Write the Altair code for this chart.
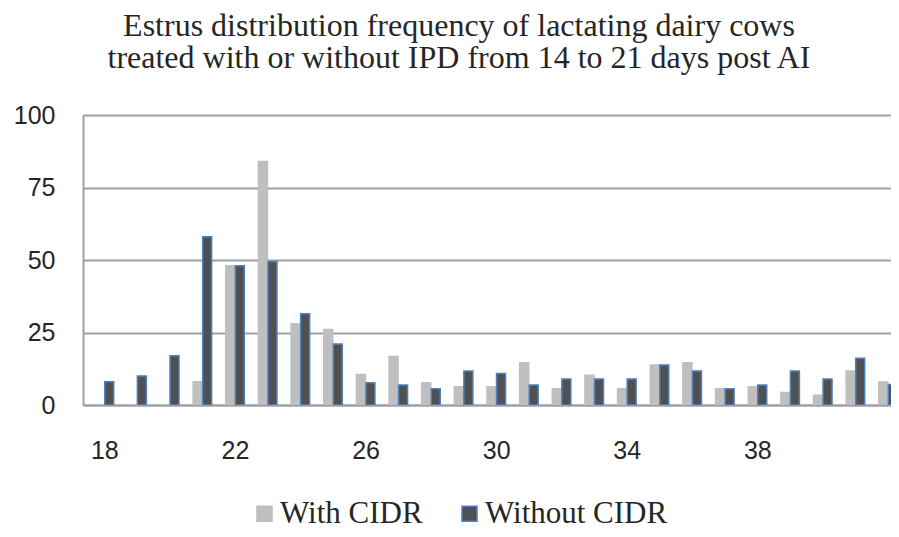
import altair as alt
import pandas as pd

# ---- data ----
days = list(range(18, 43))
with_cidr = [0, 0, 0, 8, 48, 84, 28, 26, 10.5, 16.7, 7.7, 6.3, 6.3, 14.6, 5.6,
             10.3, 5.6, 13.8, 14.6, 5.6, 6.3, 4.3, 3.4, 11.7, 7.9]
without_cidr = [8, 10, 17, 58, 48, 49.5, 31.5, 21, 7.7, 6.9, 5.6, 11.7, 10.9, 6.9, 9,
                9, 9, 13.8, 11.7, 5.6, 6.9, 11.7, 9, 16.1, 7.1]
series_names = ["With CIDR", "Without CIDR"]
x_labels = [18, 22, 26, 30, 34, 38]
y_ticks = [0, 25, 50, 75, 100]
title_lines = ["Estrus distribution frequency of lactating dairy cows",
               "treated with or without IPD from 14 to 21 days post AI"]

df = pd.DataFrame({
    "day": days * 2,
    "series": [series_names[0]] * len(days) + [series_names[1]] * len(days),
    "value": with_cidr + without_cidr,
})

GRID = "#A0A0A0"
legend_def = alt.Legend(
    title=None, orient="none", direction="horizontal", legendX=166, legendY=383,
    symbolType="square", symbolSize=225, symbolStrokeWidth=1.5,
    labelFont="Liberation Serif", labelFontSize=31, labelColor="#262626",
    labelOffset=0, columnPadding=31, padding=0, labelLimit=400,
)

chart = alt.Chart(df).transform_calculate(
    xpos="datum.day + (datum.series == 'With CIDR' ? -0.142 : 0.15)"
).mark_bar(size=9, strokeWidth=1.5, clip=True).encode(
    x=alt.X("xpos:Q",
            scale=alt.Scale(domain=[17.5, 41.94], nice=False, zero=False),
            axis=alt.Axis(values=x_labels, title=None, grid=False, ticks=False, tickSize=0,
                          labelFont="Liberation Sans", labelFontSize=25, labelColor="#262626",
                          labelPadding=33, labelFlush=False,
                          domainColor=GRID, domainWidth=2)),
    y=alt.Y("value:Q",
            scale=alt.Scale(domain=[0, 100], nice=False),
            axis=alt.Axis(values=y_ticks, title=None, ticks=False, tickSize=0, grid=True,
                          gridColor=GRID, gridWidth=2,
                          labelFont="Liberation Sans", labelFontSize=25, labelColor="#262626",
                          labelPadding=28, domainColor=GRID, domainWidth=2)),
    color=alt.Color("series:N",
                    scale=alt.Scale(domain=series_names, range=["#BFBFBF", "#505050"]),
                    legend=legend_def),
    stroke=alt.Stroke("series:N",
                      scale=alt.Scale(domain=series_names, range=["#BFBFBF", "#4F81BD"]),
                      legend=legend_def),
).properties(
    width=808, height=290,
    autosize=alt.AutoSizeParams(type="none"),
    padding={"left": 75, "top": 107, "right": 0, "bottom": 120},
    title=alt.TitleParams(title_lines, font="Liberation Serif", fontSize=32,
                          fontWeight="normal", color="#262626", lineHeight=32,
                          anchor="middle", frame="group", dx=-28, offset=28),
).configure_view(stroke=None).configure(background="white")

chart.save("out.html", embed_options={"renderer": "svg", "actions": False})
